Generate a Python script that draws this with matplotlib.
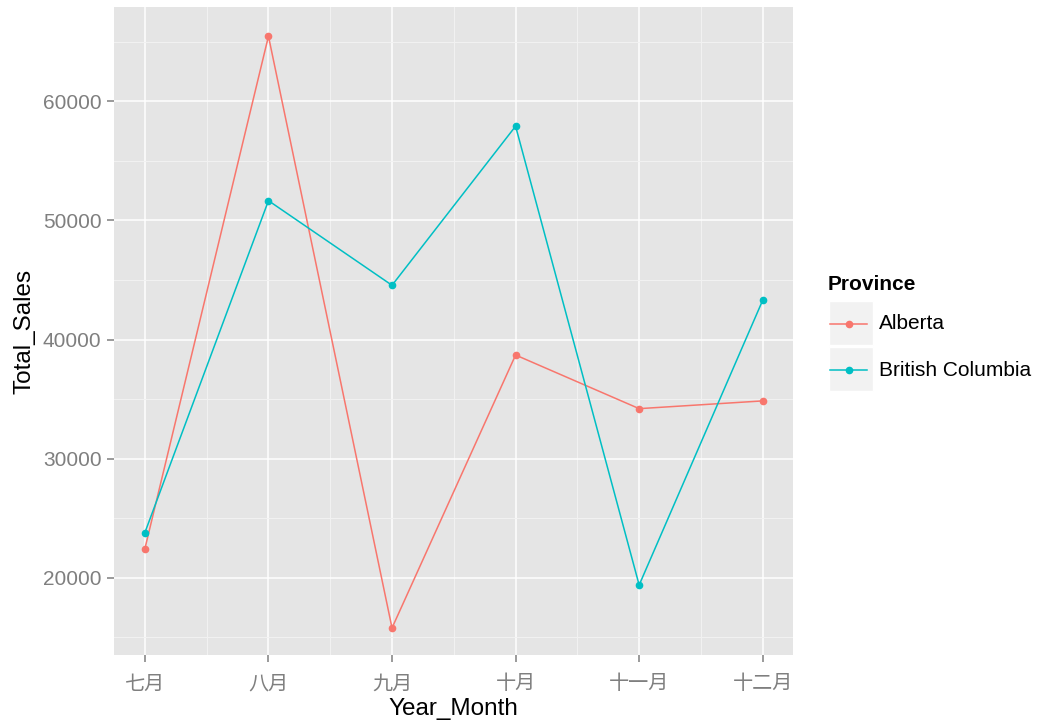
import matplotlib
matplotlib.use("Agg")
import matplotlib.pyplot as plt
from matplotlib.lines import Line2D
from matplotlib.patches import Rectangle

plt.rcParams["font.family"] = ["Liberation Sans", "Noto Sans CJK SC", "DejaVu Sans"]

# --- data ---
months = ["七月", "八月", "九月", "十月", "十一月", "十二月"]
alberta = [22450, 65450, 15800, 38700, 34200, 34850]
british_columbia = [23800, 51650, 44550, 57900, 19400, 43300]
provinces = ["Alberta", "British Columbia"]
colors = ["#F8766D", "#00BFC4"]
yticks = [20000, 30000, 40000, 50000, 60000]

W, H = 1040, 725
fig = plt.figure(figsize=(W / 100, H / 100), dpi=100)
ax = fig.add_axes([114 / W, 1 - 655 / H, (793 - 114) / W, (655 - 7) / H])
ax.set_facecolor("#E5E5E5")
for s in ax.spines.values():
    s.set_visible(False)

x = list(range(len(months)))
ax.set_xlim(-0.25, 5.245)
ax.set_ylim(13530, 67900)

# grid: major white, minor lighter
ax.set_xticks(x)
ax.set_xticks([i + 0.5 for i in x[:-1]], minor=True)
ax.set_yticks(yticks)
ax.set_yticks([15000, 25000, 35000, 45000, 55000, 65000], minor=True)
ax.grid(which="major", color="white", lw=1.1)
ax.grid(which="minor", color="#F2F2F2", lw=0.7)
ax.set_axisbelow(True)

for vals, c, lab in zip([alberta, british_columbia], colors, provinces):
    ax.plot(x, vals, color=c, lw=1.1, marker="o", ms=4.5, label=lab, zorder=3)

ax.set_xticklabels(months)
ax.tick_params(axis="both", which="major", colors="#7F7F7F", length=5, width=1.1,
               labelsize=15, labelcolor="#7F7F7F")
ax.tick_params(axis="x", pad=9, labelsize=14.5)
ax.tick_params(axis="y", pad=4)
ax.tick_params(which="minor", length=0)

ax.set_xlabel("Year_Month", fontsize=17.5, labelpad=3)
ax.set_ylabel("Total_Sales", fontsize=17.5, labelpad=5)

# --- legend, drawn in ggplot style (grey key boxes) ---
fig.text(828 / W, 1 - 285 / H, "Province", fontsize=15, fontweight="bold",
         va="center", ha="left")
for i, (c, lab) in enumerate(zip(colors, provinces)):
    top = 301 + i * 46
    fig.add_artist(Rectangle((829 / W, 1 - (top + 44) / H), 44 / W, 44 / H,
                             transform=fig.transFigure, facecolor="#F2F2F2",
                             edgecolor="white", lw=1))
    cy = 1 - (top + 23) / H
    fig.add_artist(Line2D([830 / W, 867 / W], [cy, cy], transform=fig.transFigure,
                          color=c, lw=1.1))
    fig.add_artist(Line2D([848.5 / W], [cy], transform=fig.transFigure, color=c,
                          marker="o", ms=4.5, lw=0))
    fig.text(879 / W, cy, lab, fontsize=15, va="center", ha="left")

fig.savefig("out.png", dpi=100)
